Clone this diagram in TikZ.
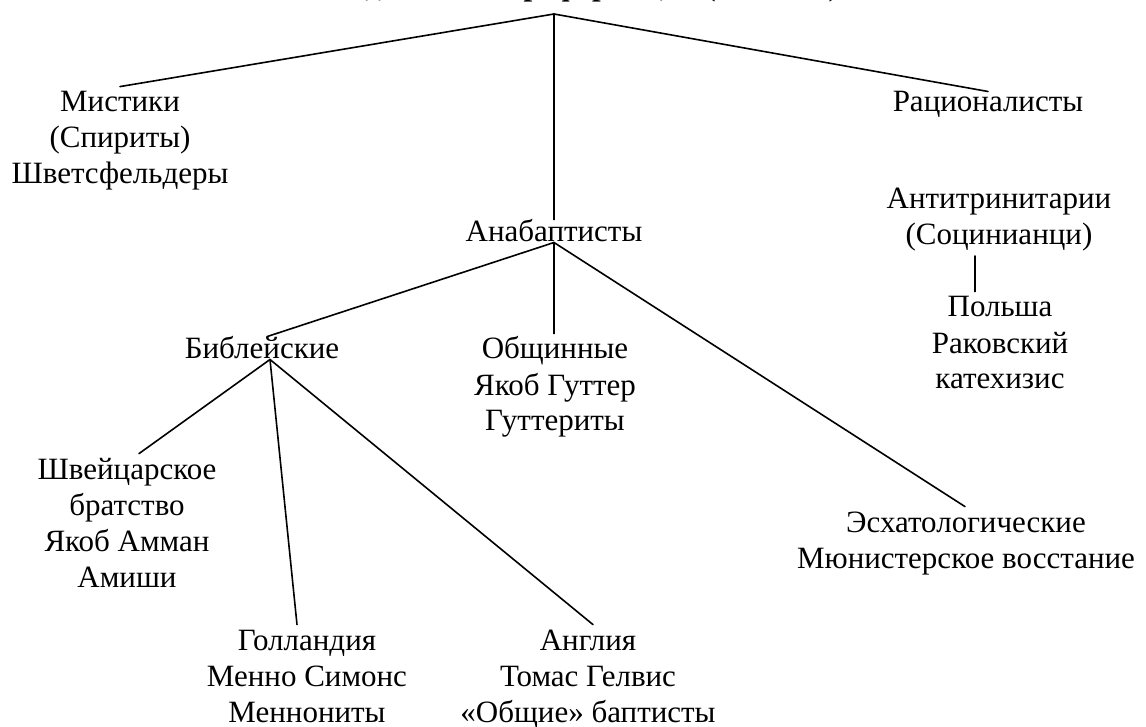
\documentclass[tikz,border=0pt]{standalone}
\usepackage{fontspec}
\setmainfont{Liberation Serif}
\begin{document}
\begin{tikzpicture}[x=1pt,y=-1pt,
  lbl/.style={anchor=base,inner sep=0pt,font=\fontsize{31}{36}\selectfont},
  ttl/.style={anchor=base,inner sep=0pt,font=\bfseries\fontsize{31}{36}\selectfont},
  conn/.style={line width=1.6pt,line cap=round}]
\useasboundingbox (0,0) rectangle (1146,727);
\clip (0,0) rectangle (1146,727);
\fill[white] (0,0) rectangle (1146,727);
% title (cut off by the top edge)
\node[ttl] (title) at (585,-4) {Радикальная реформация (XVI век)};
\coordinate (apex) at (554,14);
% first level
\node[lbl] (mist) at (120,112) {\begin{tabular}[t]{@{}c@{}}Мистики\\(Спириты)\\Шветсфельдеры\end{tabular}};
\node[lbl] (rat) at (988,112) {Рационалисты};
\node[lbl] (anab) at (554,242) {Анабаптисты};
% rationalists' branch
\node[lbl] (anti) at (999,209) {\begin{tabular}[t]{@{}c@{}}Антитринитарии\\(Социнианци)\end{tabular}};
\node[lbl] (pol) at (1000,317) {\begin{tabular}[t]{@{}c@{}}Польша\\Раковский\\катехизис\end{tabular}};
\coordinate (vx) at (975,0);
% anabaptist branches
\node[lbl] (bib) at (262,359) {Библейские};
\node[lbl] (obsh) at (555,359) {\begin{tabular}[t]{@{}c@{}}Общинные\\Якоб Гуттер\\Гуттериты\end{tabular}};
\node[lbl] (esch) at (966,532) {\begin{tabular}[t]{@{}c@{}}Эсхатологические\\Мюнистерское восстание\end{tabular}};
% biblical branches
\node[lbl] (schw) at (127,479) {\begin{tabular}[t]{@{}c@{}}Швейцарское\\братство\\Якоб Амман\\Амиши\end{tabular}};
\node[lbl] (goll) at (307,650) {\begin{tabular}[t]{@{}c@{}}Голландия\\Менно Симонс\\Меннониты\end{tabular}};
\node[lbl] (angl) at (588,650) {\begin{tabular}[t]{@{}c@{}}Англия\\Томас Гелвис\\«Общие» баптисты\end{tabular}};
% connectors
\draw[conn] (apex) -- (mist.north);
\draw[conn] (apex) -- (rat.north);
\draw[conn] (apex) -- (apex |- anab.north);
\draw[conn] (anti.south -| vx) -- (pol.north -| vx);
\draw[conn] (anab.south) -- ([xshift=5pt]bib.north);
\draw[conn] (anab.south) -- (anab.south |- obsh.north);
\draw[conn] (anab.south) -- ([xshift=-1pt]esch.north);
\draw[conn] ([xshift=8pt]bib.south) -- ([xshift=12pt]schw.north);
\draw[conn] ([xshift=8pt]bib.south) -- ([xshift=-10pt]goll.north);
\draw[conn] ([xshift=8pt]bib.south) -- ([xshift=5pt]angl.north);
\end{tikzpicture}
\end{document}
